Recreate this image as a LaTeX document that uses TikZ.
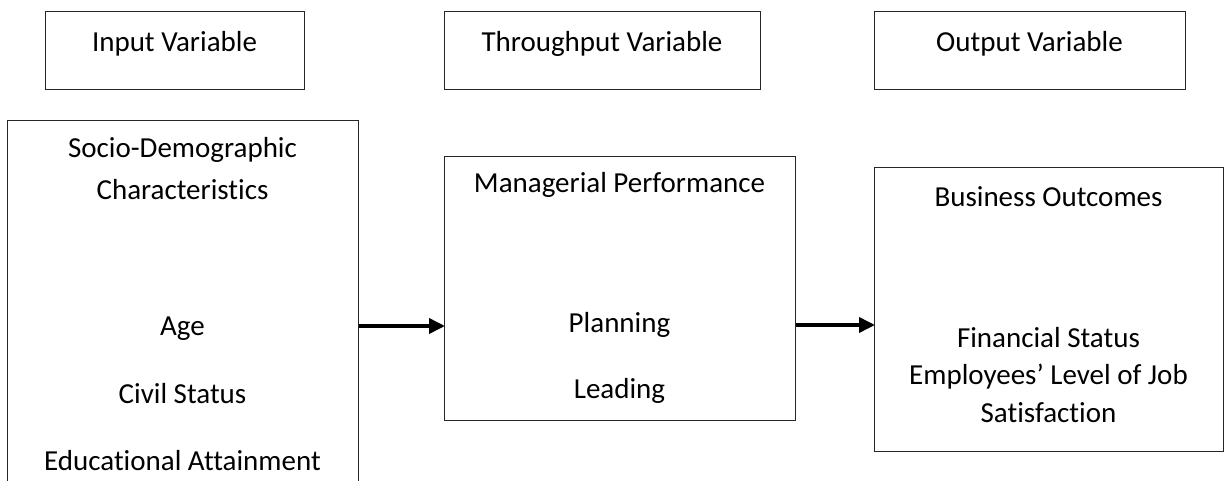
\documentclass[tikz,border=0pt]{standalone}
\usepackage{fontspec}
\setmainfont[Ligatures={NoCommon,NoRare}]{Carlito}
\usetikzlibrary{arrows.meta}
\tikzset{
  box/.style={draw=black!85, line width=1.1pt, rectangle, inner sep=0pt, anchor=north west},
  lbl/.style={anchor=base, inner sep=0pt, font=\fontsize{29}{35}\selectfont},
  conn/.style={line width=3.6pt, -{Triangle[length=16pt,width=15pt]}, shorten >=-1pt}
}
\begin{document}
\begin{tikzpicture}[x=1pt,y=-1pt]
\useasboundingbox (0,0) rectangle (1224,481);
\clip (0,0) rectangle (1224,481);
% top header boxes
\node[box, minimum width=259pt, minimum height=78pt] (inbox) at (45,11) {};
\node[box, minimum width=316pt, minimum height=78pt] (thbox) at (444,11) {};
\node[box, minimum width=311pt, minimum height=78pt] (outbox) at (874,11) {};
\node[lbl] (intxt) at (174.5,52) {Input Variable};
\node[lbl] (thtxt) at (602,52) {Throughput Variable};
\node[lbl] (outtxt) at (1029.5,52) {Output Variable};
% main boxes
\node[box, minimum width=351pt, minimum height=420pt] (lbox) at (7,120) {};
\node[box, minimum width=351pt, minimum height=264pt] (mbox) at (444,156) {};
\node[box, minimum width=349pt, minimum height=284pt] (rbox) at (874,167) {};
% left texts
\node[lbl] (socio) at (182.5,158) {Socio-Demographic};
\node[lbl] (charac) at (182.5,200) {Characteristics};
\node[lbl] (age) at (182.5,335) {Age};
\node[lbl] (civil) at (182.5,403) {Civil Status};
\node[lbl] (educ) at (182.5,470) {Educational Attainment};
% middle texts
\node[lbl] (manag) at (619.5,193) {Managerial Performance};
\node[lbl] (plan) at (619.5,332) {Planning};
\node[lbl] (lead) at (619.5,398) {Leading};
% right texts
\node[lbl] (busi) at (1048.5,207) {Business Outcomes};
\node[lbl] (fin) at (1048.5,347) {Financial Status};
\node[lbl] (emp) at (1048.5,384) {Employees’ Level of Job};
\node[lbl] (sat) at (1048.5,422) {Satisfaction};
% connectors
\coordinate (a1) at (0,326);
\coordinate (a2) at (0,325);
\draw[conn] (lbox.east |- a1) -- (mbox.west |- a1);
\draw[conn] (mbox.east |- a2) -- (rbox.west |- a2);
\end{tikzpicture}
\end{document}
